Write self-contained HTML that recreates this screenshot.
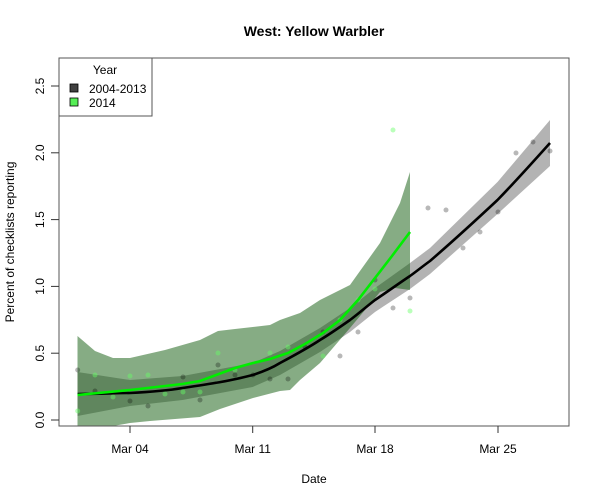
<!DOCTYPE html>
<html><head><meta charset="utf-8"><style>
body{margin:0;background:#fff}
svg{display:block;font-family:"Liberation Sans",Arial,sans-serif}
</style></head><body>
<svg width="600" height="500" viewBox="0 0 600 500">
<defs><clipPath id="c"><rect x="59" y="58" width="510" height="368"/></clipPath></defs>
<text x="314" y="36" text-anchor="middle" font-size="14" font-weight="bold">West: Yellow Warbler</text>
<g clip-path="url(#c)">
<polygon fill="#b3b3b3" points="77.5,372 130,380 182.5,376 252.7,363 280,351 320,328 350,308 375,288 410,263 430,248 497.5,182 550,120 550,166 497.5,214 430,274 410,289 375,312 350,332 320,352 280,375 252.7,387 182.5,400 130,406 77.5,416"/>
<polygon fill="#0e5a0a" fill-opacity="0.5" points="77.5,336 95,351 113,358 130,358 165,350 200,340 218,331 235,329 270,325 280,320 300,313 320,300 350,285 380,243 400,203 410,172 410,290 395,288 380,292 350,328 320,363 300,380 290,390 280,391 253,398 220,409 200,417 150,421 130,423 113,426 95,432 77.5,440"/>
<g fill="#000" fill-opacity="0.28">
<circle cx="77.7" cy="370" r="2.5"/><circle cx="95" cy="391" r="2.5"/><circle cx="130" cy="401" r="2.5"/><circle cx="148" cy="406" r="2.5"/><circle cx="183" cy="377" r="2.5"/><circle cx="200" cy="400" r="2.5"/><circle cx="218" cy="365" r="2.5"/><circle cx="235" cy="375" r="2.5"/><circle cx="253" cy="375" r="2.5"/><circle cx="270" cy="379" r="2.5"/><circle cx="288" cy="379" r="2.5"/><circle cx="305" cy="347" r="2.5"/><circle cx="323" cy="332" r="2.5"/><circle cx="340" cy="356" r="2.5"/><circle cx="358" cy="332" r="2.5"/><circle cx="375" cy="280" r="2.5"/><circle cx="393" cy="308" r="2.5"/><circle cx="410" cy="298" r="2.5"/><circle cx="428" cy="208" r="2.5"/><circle cx="446" cy="210" r="2.5"/><circle cx="463" cy="248" r="2.5"/><circle cx="480" cy="232" r="2.5"/><circle cx="498" cy="212" r="2.5"/><circle cx="516" cy="153" r="2.5"/><circle cx="533" cy="142" r="2.5"/><circle cx="550" cy="151" r="2.5"/>
</g>
<g fill="#66ff66" fill-opacity="0.45">
<circle cx="77.7" cy="411" r="2.5"/><circle cx="95" cy="375" r="2.5"/><circle cx="113" cy="397" r="2.5"/><circle cx="130" cy="376" r="2.5"/><circle cx="148" cy="375" r="2.5"/><circle cx="165" cy="394" r="2.5"/><circle cx="183" cy="392" r="2.5"/><circle cx="200" cy="392" r="2.5"/><circle cx="218" cy="353" r="2.5"/><circle cx="235" cy="370" r="2.5"/><circle cx="270" cy="353" r="2.5"/><circle cx="288" cy="347" r="2.5"/><circle cx="323" cy="356" r="2.5"/><circle cx="340" cy="320" r="2.5"/><circle cx="358" cy="300" r="2.5"/><circle cx="375" cy="289" r="2.5"/><circle cx="393" cy="130" r="2.5"/><circle cx="410" cy="311" r="2.5"/>
</g>
<path fill="none" stroke="#000" stroke-width="2.6" d="M77.5,394 C100,394 115,393 130,393 C150,392 165,391 182.5,388 C210,384 230,381 252.7,375 C265,371 272,368 280,363 C295,355 308,348 320,340 C330,334 340,327 350,320 C358,314 366,307 375,300 C387,292 398,284 410,276 C417,271 423,266 430,261 C452,242 475,221 497.5,200 C515,182 533,162 550,143"/>
<path fill="none" stroke="#00ee00" stroke-width="2.6" d="M77.5,395 L130,390 L182.5,384 L200,381 L235,368 L253,363 L270,359 L288,353 L305,344 L323,333 L340,320 L358,300 L375,278 L392,256 L410,232"/>
</g>
<rect x="59" y="58" width="510" height="368" fill="none" stroke="#555" stroke-width="1"/>
<rect x="59" y="58" width="93" height="58" fill="#fff" stroke="#555" stroke-width="1"/>
<text x="105" y="74" text-anchor="middle" font-size="12">Year</text>
<rect x="70" y="84" width="8" height="8" fill="#404040" stroke="#000" stroke-width="0.8"/>
<text x="89" y="93" font-size="12">2004-2013</text>
<rect x="70" y="98" width="8" height="8" fill="#55ee55" stroke="#000" stroke-width="0.8"/>
<text x="89" y="107" font-size="12">2014</text>
<g stroke="#333" stroke-width="1">
<line x1="51" y1="420" x2="59" y2="420"/><line x1="51" y1="353.2" x2="59" y2="353.2"/><line x1="51" y1="286.4" x2="59" y2="286.4"/><line x1="51" y1="219.6" x2="59" y2="219.6"/><line x1="51" y1="152.8" x2="59" y2="152.8"/><line x1="51" y1="86" x2="59" y2="86"/>
<line x1="130" y1="426" x2="130" y2="433"/><line x1="252.7" y1="426" x2="252.7" y2="433"/><line x1="375" y1="426" x2="375" y2="433"/><line x1="498" y1="426" x2="498" y2="433"/>
</g>
<g font-size="12" text-anchor="middle">
<text transform="translate(44,420) rotate(-90)">0.0</text>
<text transform="translate(44,353.2) rotate(-90)">0.5</text>
<text transform="translate(44,286.4) rotate(-90)">1.0</text>
<text transform="translate(44,219.6) rotate(-90)">1.5</text>
<text transform="translate(44,152.8) rotate(-90)">2.0</text>
<text transform="translate(44,86) rotate(-90)">2.5</text>
<text x="130" y="453">Mar 04</text>
<text x="252.7" y="453">Mar 11</text>
<text x="375" y="453">Mar 18</text>
<text x="498" y="453">Mar 25</text>
<text x="314" y="483">Date</text>
<text transform="translate(14,242) rotate(-90)">Percent of checklists reporting</text>
</g>
</svg>
</body></html>
